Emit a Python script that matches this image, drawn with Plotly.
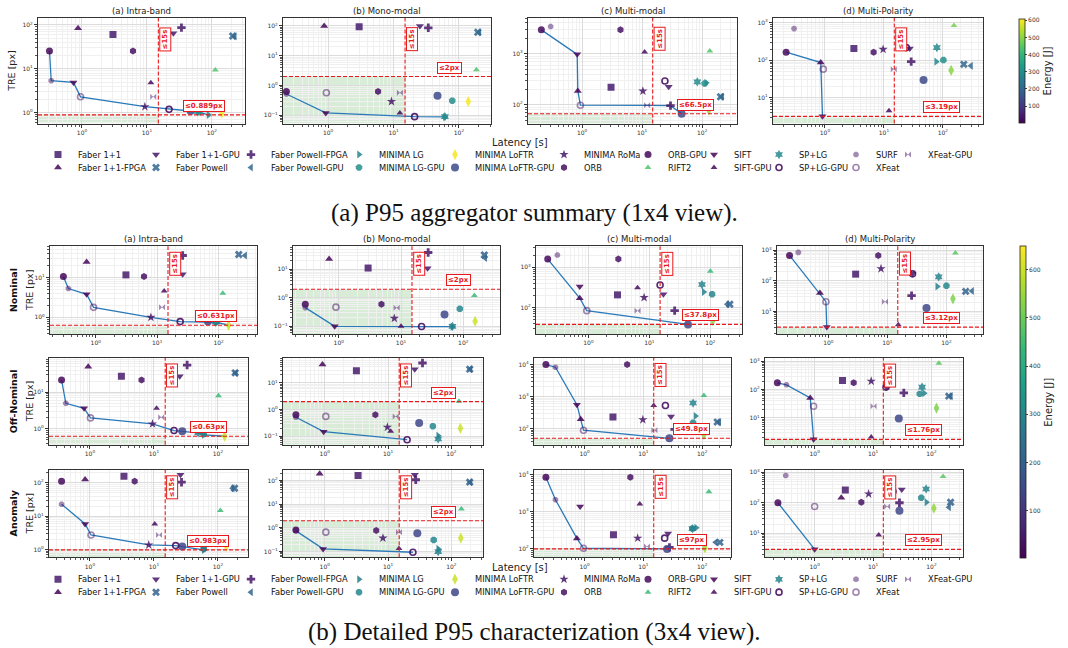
import numpy as np
import plotly.graph_objects as go
from plotly.colors import sample_colorscale

W, H = 1068, 648

METHODS = ["Faber 1+1", "Faber 1+1-FPGA", "Faber 1+1-GPU", "Faber Powell", "Faber Powell-FPGA",
           "Faber Powell-GPU", "MINIMA LG", "MINIMA LG-GPU", "MINIMA LoFTR", "MINIMA LoFTR-GPU",
           "MINIMA RoMa", "ORB", "ORB-GPU", "RIFT2", "SIFT", "SIFT-GPU", "SP+LG", "SP+LG-GPU",
           "SURF", "XFeat", "XFeat-GPU"]

SYMBOL = ["square", "triangle-up", "triangle-down", "x", "cross", "triangle-left", "triangle-right",
          "octagon", "diamond-tall", "circle", "star", "hexagon", "circle", "triangle-up",
          "triangle-down", "triangle-up", "hexagram", "circle-open", "octagon", "circle-open",
          "bowtie"]
SIZE = [7, 7, 7, 7, 7, 7, 7, 7, 8, 8, 7, 7, 7, 6, 7, 6, 7, 6, 6, 6, 6]
ALPHA = [0.85, 0.85, 0.85, 0.85, 0.85, 0.85, 0.85, 0.85, 0.85, 0.85, 0.85, 0.85, 0.85, 0.85,
         0.85, 0.85, 0.85, 0.9, 0.5, 0.5, 0.5]

# ---------------- (a) P95 aggregate, 1x4 ----------------
LAT_A_INTRA = [3.0, 0.87, 25.5, 209, 34, 225, 89, 64, 142, 47, 9.3, 6.1, 0.316, 113, 0.74, 11.5, 60, 21.9, 0.336, 0.95, 12.5]
TRE_A_INTRA = [61, 84, 65, 56, 87, 55, 0.889, 1.02, 0.97, 1.09, 1.37, 25.5, 25.5, 9.4, 4.9, 4.8, 1.06, 1.19, 5.37, 2.3, 2.3]
EN_A_INTRA = [50, 10, 40, 200, 40, 210, 280, 300, 600, 140, 40, 30, 15, 440, 10, 20, 290, 30, 40, 30, 40]

LAT_A_MONO = [2.98, 0.87, 25.3, 194, 34, 205, 61, 79, 139, 47, 9.3, 5.8, 0.23, 185, 0.92, 12.5, 61, 21, 0.23, 0.94, 12.5]
TRE_A_MONO = [95, 100, 100, 62, 87, 62, 0.088, 0.31, 0.29, 0.45, 0.29, 0.63, 0.63, 3.4, 0.12, 0.12, 0.09, 0.09, 0.52, 0.57, 0.57]
EN_A_MONO = [50, 10, 40, 200, 40, 210, 280, 300, 600, 140, 40, 30, 15, 440, 10, 20, 290, 30, 40, 30, 40]

LAT_A_MULTI = [3.04, 0.85, 27.7, 202, 29.7, 215, 117, 110, 129, 45.5, 10.3, 4.36, 0.21, 134, 0.83, 11, 83, 24, 0.30, 0.94, 12.1]
TRE_A_MULTI = [220, 185, 225, 143, 96, 143, 270, 260, 79, 66.5, 185, 2930, 2930, 1130, 970, 1080, 280, 292, 3400, 98, 97.5]
EN_A_MULTI = [50, 10, 40, 200, 40, 210, 280, 300, 520, 140, 40, 30, 15, 440, 10, 20, 290, 30, 40, 30, 40]

LAT_A_POL = [3.1, 0.85, 27.5, 226, 29, 300, 77, 102, 138, 47, 9.7, 6.7, 0.22, 154, 0.91, 12.2, 79, 24, 0.30, 0.94, 14.7]
TRE_A_POL = [205, 87, 208, 78, 92, 71, 92, 102, 54, 30, 196, 165, 165, 850, 3.19, 4.5, 218, 218, 700, 58, 58]
EN_A_POL = [50, 10, 40, 200, 40, 210, 280, 300, 500, 140, 40, 30, 15, 480, 10, 20, 290, 30, 40, 30, 40]

# ---------------- (b) detailed, 3x4 ----------------
LAT_NOM_INTRA = [3.1, 0.71, 26, 213, 26, 270, 94, 90, 145, 67, 7.9, 6.1, 0.297, 117, 0.71, 13, 90, 23.7, 0.358, 0.92, 12]
TRE_NOM_INTRA = [11.7, 24.6, 12.1, 38, 36, 36, 0.74, 0.75, 0.631, 0.78, 1.0, 10.6, 10.6, 4.06, 3.8, 4.6, 0.76, 0.78, 5.3, 1.78, 1.78]
EN_NOM_INTRA = [50, 10, 40, 200, 40, 210, 280, 300, 600, 140, 40, 30, 15, 440, 10, 20, 290, 30, 40, 30, 40]

LAT_NOM_MONO = [2.96, 0.7, 26.7, 218, 27.3, 225, 67, 88, 155, 50, 7.8, 4.85, 0.29, 151, 0.86, 10, 67, 21.4, 0.29, 0.9, 8.5]
TRE_NOM_MONO = [11.1, 23, 11, 32, 39, 25, 0.097, 0.41, 0.15, 0.26, 0.19, 0.59, 0.59, 1.2, 0.1, 0.101, 0.099, 0.098, 0.45, 0.47, 0.45]
EN_NOM_MONO = [50, 10, 40, 200, 40, 210, 280, 300, 600, 140, 40, 30, 15, 440, 10, 20, 290, 30, 40, 30, 40]

LAT_NOM_MULTI = [3.0, 0.72, 17, 209, 26, 190, 78, 107, 110, 43, 8.2, 3.1, 0.215, 100, 0.72, 6.4, 73, 15, 0.31, 0.94, 6.4]
TRE_NOM_MULTI = [205, 170, 213, 120, 83, 120, 243, 213, 47, 37.8, 176, 1590, 1590, 795, 330, 310, 370, 360, 2000, 83, 83]
EN_NOM_MULTI = [50, 10, 40, 200, 40, 210, 280, 300, 540, 140, 40, 30, 15, 440, 10, 20, 290, 30, 40, 30, 40]

LAT_NOM_POL = [2.9, 0.72, 26.7, 212, 25.7, 272, 70, 100, 129, 46, 7.8, 7.0, 0.22, 142, 0.94, 15.3, 74, 26.7, 0.31, 0.91, 9.1]
TRE_NOM_POL = [166, 40, 170, 45.6, 33, 47, 66, 69, 26, 13, 250, 675, 675, 810, 3.12, 3.7, 135, 170, 850, 21, 21]
EN_NOM_POL = [50, 10, 40, 200, 40, 210, 280, 300, 520, 140, 40, 30, 15, 480, 10, 20, 290, 30, 40, 30, 40]

LAT_OFF_INTRA = [3.1, 0.94, 25.3, 186, 33, 190, 60, 60, 127, 27.7, 9.5, 6.4, 0.36, 102, 0.81, 11, 49, 20.6, 0.42, 1.02, 13]
TRE_OFF_INTRA = [27.4, 50, 27.4, 34, 55.6, 33, 0.69, 0.72, 0.63, 0.86, 1.37, 21.7, 21.7, 8.1, 3.66, 3.66, 0.78, 0.9, 5.0, 2.0, 2.08]
EN_OFF_INTRA = [50, 10, 40, 200, 40, 210, 280, 300, 600, 140, 40, 30, 15, 440, 10, 20, 290, 30, 40, 30, 40]

LAT_OFF_MONO = [3.16, 0.92, 26.4, 195, 35, 200, 62, 51, 139, 31, 9.76, 6.3, 0.35, 132, 0.96, 11, 62, 20, 0.35, 1.04, 13.2]
TRE_OFF_MONO = [29, 49, 33, 33, 56, 33, 0.106, 0.24, 0.2, 0.32, 0.22, 0.65, 0.65, 2.05, 0.15, 0.155, 0.08, 0.075, 0.52, 0.56, 0.56]
EN_OFF_MONO = [50, 10, 40, 200, 40, 210, 280, 300, 600, 140, 40, 30, 15, 440, 10, 20, 290, 30, 40, 30, 40]

LAT_OFF_MULTI = [3.04, 0.86, 29.5, 180, 34, 195, 77, 70, 107, 27.7, 9.8, 5.3, 0.22, 107, 0.74, 15, 70, 23.7, 0.32, 0.96, 15.4]
TRE_OFF_MULTI = [230, 195, 240, 160, 95, 160, 247, 154, 65, 49.8, 190, 10000, 10000, 1090, 560, 530, 630, 530, 8300, 89, 89]
EN_OFF_MULTI = [50, 10, 40, 200, 40, 210, 280, 300, 540, 140, 40, 30, 15, 440, 10, 20, 290, 30, 40, 30, 40]

LAT_OFF_POL = [3.0, 0.84, 17, 198, 33.6, 215, 75, 63, 122, 27.6, 9.3, 4.66, 0.23, 134, 0.96, 9.3, 69, 16.7, 0.33, 0.96, 10.2]
TRE_OFF_POL = [210, 51, 125, 59, 77, 59, 75, 71, 22.4, 9.5, 199, 174, 174, 850, 1.76, 2.15, 123, 123, 148, 26, 26]
EN_OFF_POL = [50, 10, 40, 200, 40, 210, 280, 300, 520, 140, 40, 30, 15, 480, 10, 20, 290, 30, 40, 30, 40]

LAT_ANO_INTRA = [3.4, 0.84, 26, 182, 27, 170, 60, 60, 135, 27.7, 8.3, 5.0, 0.36, 109, 0.84, 10.3, 60, 21.9, 0.36, 1.04, 12]
TRE_ANO_INTRA = [158, 126, 174, 69, 105, 69, 0.983, 1.05, 1.26, 1.23, 1.38, 112, 112, 14.8, 5.9, 5.9, 1.1, 1.32, 23, 2.75, 2.75]
EN_ANO_INTRA = [50, 10, 40, 200, 40, 210, 280, 300, 640, 140, 40, 30, 15, 440, 10, 20, 290, 30, 40, 30, 40]

LAT_ANO_MONO = [3.36, 0.83, 26.4, 195, 27.4, 200, 62, 52.6, 141, 29, 8.3, 6.5, 0.35, 144, 0.94, 14.9, 62, 24.7, 0.35, 1.04, 14.9]
TRE_ANO_MONO = [162, 190, 174, 85, 107, 85, 0.13, 0.31, 0.37, 0.6, 0.37, 0.77, 0.82, 6.3, 0.13, 0.135, 0.1, 0.094, 0.75, 0.66, 0.66]
EN_ANO_MONO = [50, 10, 40, 200, 40, 210, 280, 300, 600, 140, 40, 30, 15, 440, 10, 20, 290, 30, 40, 30, 40]

LAT_ANO_MULTI = [3.1, 0.74, 26.3, 200, 27.8, 170, 79, 68, 111, 25.3, 8.0, 6.0, 0.22, 130, 0.84, 8.7, 68, 23, 0.32, 0.96, 11.5]
TRE_ANO_MULTI = [235, 187, 255, 146, 107, 146, 364, 345, 104, 97, 190, 8500, 8500, 3460, 1380, 1600, 345, 190, 2100, 101, 112]
EN_ANO_MULTI = [50, 10, 40, 200, 40, 210, 280, 300, 560, 140, 40, 30, 15, 440, 10, 20, 290, 30, 40, 30, 40]

LAT_ANO_POL = [3.35, 2.86, 31, 213, 28.3, 200, 82, 67, 110, 28.3, 8.4, 6.3, 0.235, 158, 1.0, 12.5, 81, 22, 0.32, 1.0, 17.4]
TRE_ANO_POL = [263, 145, 270, 104, 100, 71, 104, 145, 66, 55, 195, 104, 100, 730, 2.95, 8.8, 283, 235, 780, 75, 75]
EN_ANO_POL = [50, 10, 40, 200, 40, 210, 280, 300, 540, 140, 40, 30, 15, 480, 10, 20, 290, 30, 40, 30, 40]

TITLES = ["(a) Intra-band", "(b) Mono-modal", "(c) Multi-modal", "(d) Multi-Polarity"]
ROW_NAMES = ["Nominal", "Off-Nominal", "Anomaly"]
LAT_LIMIT = 15
ENERGY_RANGE = {"a": (2, 608), "b": (2, 648)}

# panel geometry in pixels: x0, x1, y_top, y_bottom ; log10 axis ranges
PANELS = [
    # section a
    dict(sec="a", box=(38, 245, 16, 122), xr=(-0.677, 2.51), yr=(-0.25, 2.16), thr=0.889, lab="≤0.889px",
         data=(LAT_A_INTRA, TRE_A_INTRA, EN_A_INTRA), title=TITLES[0], row=None),
    dict(sec="a", box=(283, 491, 16, 122), xr=(-0.69, 2.49), yr=(-1.28, 2.27), thr=2, lab="≤2px",
         data=(LAT_A_MONO, TRE_A_MONO, EN_A_MONO), title=TITLES[1], row=None),
    dict(sec="a", box=(528, 737, 16, 122), xr=(-0.9, 2.58), yr=(1.63, 3.7), thr=66.5, lab="≤66.5px",
         data=(LAT_A_MULTI, TRE_A_MULTI, EN_A_MULTI), title=TITLES[2], row=None),
    dict(sec="a", box=(773, 983, 16, 122), xr=(-0.88, 2.68), yr=(0.31, 3.13), thr=3.19, lab="≤3.19px",
         data=(LAT_A_POL, TRE_A_POL, EN_A_POL), title=TITLES[3], row=None),
    # section b, row 1
    dict(sec="b", box=(50, 257, 245, 333), xr=(-0.745, 2.625), yr=(-0.42, 1.79), thr=0.631, lab="≤0.631px",
         data=(LAT_NOM_INTRA, TRE_NOM_INTRA, EN_NOM_INTRA), title=TITLES[0], row=0),
    dict(sec="b", box=(293, 500, 245, 333), xr=(-0.735, 2.59), yr=(-1.27, 1.81), thr=2, lab="≤2px",
         data=(LAT_NOM_MONO, TRE_NOM_MONO, EN_NOM_MONO), title=TITLES[1], row=None),
    dict(sec="b", box=(536, 742, 245, 333), xr=(-0.86, 2.52), yr=(1.34, 3.52), thr=37.8, lab="≤37.8px",
         data=(LAT_NOM_MULTI, TRE_NOM_MULTI, EN_NOM_MULTI), title=TITLES[2], row=None),
    dict(sec="b", box=(777, 983, 245, 333), xr=(-0.87, 2.62), yr=(0.27, 3.13), thr=3.12, lab="≤3.12px",
         data=(LAT_NOM_POL, TRE_NOM_POL, EN_NOM_POL), title=TITLES[3], row=None),
    # row 2
    dict(sec="b", box=(49, 248, 357, 444), xr=(-0.64, 2.47), yr=(-0.43, 1.94), thr=0.63, lab="≤0.63px",
         data=(LAT_OFF_INTRA, TRE_OFF_INTRA, EN_OFF_INTRA), title=None, row=1),
    dict(sec="b", box=(283, 483, 357, 444), xr=(-0.66, 2.5), yr=(-1.31, 1.94), thr=2, lab="≤2px",
         data=(LAT_OFF_MONO, TRE_OFF_MONO, EN_OFF_MONO), title=None, row=None),
    dict(sec="b", box=(534, 731, 357, 444), xr=(-0.86, 2.49), yr=(1.5, 4.21), thr=49.8, lab="≤49.8px",
         data=(LAT_OFF_MULTI, TRE_OFF_MULTI, EN_OFF_MULTI), title=None, row=None),
    dict(sec="b", box=(765, 963, 357, 444), xr=(-0.85, 2.54), yr=(0.06, 3.12), thr=1.76, lab="≤1.76px",
         data=(LAT_OFF_POL, TRE_OFF_POL, EN_OFF_POL), title=None, row=None),
    # row 3
    dict(sec="b", box=(49, 248, 469, 557), xr=(-0.64, 2.47), yr=(-0.23, 2.4), thr=0.983, lab="≤0.983px",
         data=(LAT_ANO_INTRA, TRE_ANO_INTRA, EN_ANO_INTRA), title=None, row=2),
    dict(sec="b", box=(283, 483, 469, 557), xr=(-0.66, 2.5), yr=(-1.24, 2.46), thr=2, lab="≤2px",
         data=(LAT_ANO_MONO, TRE_ANO_MONO, EN_ANO_MONO), title=None, row=None),
    dict(sec="b", box=(534, 731, 469, 557), xr=(-0.86, 2.49), yr=(1.76, 4.14), thr=97, lab="≤97px",
         data=(LAT_ANO_MULTI, TRE_ANO_MULTI, EN_ANO_MULTI), title=None, row=None),
    dict(sec="b", box=(765, 963, 469, 557), xr=(-0.85, 2.54), yr=(0.21, 3.09), thr=2.95, lab="≤2.95px",
         data=(LAT_ANO_POL, TRE_ANO_POL, EN_ANO_POL), title=None, row=None),
]

# legend columns (text left edge in px) and row centres per section
LEG_COLS = [77, 175, 270, 378, 474, 583, 667, 733, 798, 875, 927]
LEG_ROWS = {"a": (153, 166), "b": (579, 592)}

FONT = "DejaVu Sans"
RED = "#e8191c"
DASH = "4px,2px"


def fx(px):
    return px / W


def fy(py):
    return 1 - py / H


def pow_label(e):
    return "10<sup>%s%d</sup>" % ("\u2212" if e < 0 else "", abs(e))


def energy_color(e, sec):
    lo, hi = ENERGY_RANGE[sec]
    t = min(max((e - lo) / (hi - lo), 0.0), 1.0)
    return sample_colorscale("Viridis", [t])[0]


def pareto(lat, tre):
    pts = sorted(zip(lat, tre))
    front, best = [], np.inf
    for L, T in pts:
        if T < best:
            front.append((L, T))
            best = T
    return [p[0] for p in front], [p[1] for p in front]


def note(text, x, y, size, color="#222", angle=0, family=FONT, **kw):
    return dict(text=text, x=x, y=y, xref="paper", yref="paper", showarrow=False, textangle=angle,
                xanchor="center", yanchor="middle", font=dict(family=family, size=size, color=color), **kw)


fig = go.Figure()
layout = {}
annotations = []
shapes = []
legend_ids = {"a": {}, "b": {}}
leg_counter = [0]


def new_legend(sec, mi):
    leg_counter[0] += 1
    k = leg_counter[0]
    name = "legend" if k == 1 else "legend%d" % k
    col, r = divmod(mi, 2)
    layout[name] = dict(x=fx(LEG_COLS[col] - 39), xanchor="left", y=fy(LEG_ROWS[sec][r]), yanchor="middle",
                        bgcolor="rgba(0,0,0,0)", borderwidth=0, font=dict(family=FONT, size=8.3, color="#111"),
                        itemwidth=30, tracegroupgap=0)
    return name


for n, p in enumerate(PANELS, start=1):
    sfx = "" if n == 1 else str(n)
    xa, ya = "x" + sfx, "y" + sfx
    x0, x1, yt, yb = p["box"]
    lat, tre, en = p["data"]

    ylo = int(np.ceil(p["yr"][0] - 1e-9))
    yhi = int(np.floor(p["yr"][1] + 1e-9))
    yt_vals = [10.0 ** e for e in range(ylo, yhi + 1)]
    common = dict(type="log", showline=True, linecolor="#333", linewidth=1.2, mirror=True,
                  ticks="outside", ticklen=3, tickwidth=0.8, tickcolor="#333",
                  showgrid=True, gridcolor="#dcdcdc", gridwidth=0.6, zeroline=False,
                  tickfont=dict(family=FONT, size=6, color="#333"),
                  minor=dict(ticks="outside", ticklen=1.8, tickwidth=0.5, tickcolor="#555",
                             showgrid=True, gridcolor="#f0f0f0", gridwidth=0.5, dtick="D1"))
    layout["xaxis" + sfx] = dict(common, domain=[fx(x0), fx(x1)], range=list(p["xr"]), anchor=ya,
                                 tickmode="array", tickvals=[1, 10, 100],
                                 ticktext=[pow_label(0), pow_label(1), pow_label(2)])
    layout["yaxis" + sfx] = dict(common, domain=[fy(yb), fy(yt)], range=list(p["yr"]), anchor=xa,
                                 tickmode="array", tickvals=yt_vals,
                                 ticktext=[pow_label(e) for e in range(ylo, yhi + 1)])

    # feasible region and thresholds
    shapes.append(dict(type="rect", xref=xa, yref=ya, x0=10 ** p["xr"][0], x1=LAT_LIMIT,
                       y0=10 ** p["yr"][0], y1=p["thr"], fillcolor="rgba(60,160,60,0.2)",
                       line=dict(width=0), layer="below"))
    shapes.append(dict(type="line", xref=xa, yref="paper", x0=LAT_LIMIT, x1=LAT_LIMIT, y0=fy(yb), y1=fy(yt),
                       line=dict(color=RED, width=1.1, dash=DASH), layer="above"))
    shapes.append(dict(type="line", xref="paper", yref=ya, x0=fx(x0), x1=fx(x1), y0=p["thr"], y1=p["thr"],
                       line=dict(color=RED, width=1.1, dash=DASH), layer="above"))

    # Pareto front
    fl, ft = pareto(lat, tre)
    fig.add_trace(go.Scatter(x=fl, y=ft, mode="lines", line=dict(color="#2a7ab9", width=1.3),
                             xaxis=xa, yaxis=ya, showlegend=False, hoverinfo="skip"))

    for mi, m in enumerate(METHODS):
        if lat[mi] is None:
            continue
        show = m not in legend_ids[p["sec"]]
        kw = {}
        if show:
            legend_ids[p["sec"]][m] = new_legend(p["sec"], mi)
            kw["legend"] = legend_ids[p["sec"]][m]
        sym = SYMBOL[mi]
        is_open = sym.endswith("-open")
        col = energy_color(en[mi], p["sec"])
        fig.add_trace(go.Scatter(
            x=[lat[mi]], y=[tre[mi]], mode="markers", name=m, showlegend=show, legendgroup=p["sec"] + m,
            xaxis=xa, yaxis=ya,
            marker=dict(symbol=sym, size=SIZE[mi], color=col, opacity=ALPHA[mi],
                        line=dict(width=1.6 if is_open else 0, color=col)),
            **kw))

    # labels
    xc = (x0 + x1) / 2
    if p["title"]:
        annotations.append(note(p["title"], fx(xc), fy(yt - 7), 8.5))
    box = dict(showarrow=False, font=dict(family=FONT, size=7, color=RED), bgcolor="white",
               bordercolor=RED, borderwidth=1, borderpad=1, xanchor="center", yanchor="middle")
    annotations.append(dict(box, text="<b>≤15s</b>", xref=xa, x=np.log10(LAT_LIMIT), xshift=7,
                            yref="paper", y=fy(yt + 0.2 * (yb - yt)), textangle=-90))
    annotations.append(dict(box, text="<b>%s</b>" % p["lab"], xref="paper", x=fx(x0 + 0.8 * (x1 - x0)),
                            yref=ya, y=np.log10(p["thr"]), yshift=9))
    if p["sec"] == "a" and n == 1:
        annotations.append(note("TRE [px]", fx(12), fy((yt + yb) / 2), 9.5, angle=-90))
    if p["row"] is not None:
        annotations.append(note("<b>%s</b>" % ROW_NAMES[p["row"]], fx(13), fy((yt + yb) / 2), 9.5,
                                color="#111", angle=-90))
        annotations.append(note("TRE [px]", fx(29), fy((yt + yb) / 2), 9.5, angle=-90))

# colour bars driven by the same energy scale
for sec, cax in (("a", "coloraxis"), ("b", "coloraxis2")):
    fig.add_trace(go.Scatter(x=[None, None], y=[None, None], mode="markers", showlegend=False,
                             hoverinfo="skip", xaxis="x", yaxis="y",
                             marker=dict(color=list(ENERGY_RANGE[sec]), coloraxis=cax)))

# shared axis labels and captions
for ypx in (141, 567):
    annotations.append(note("Latency [s]", fx(520), fy(ypx), 10))
annotations.append(note("(a) P95 aggregator summary (1x4 view).", fx(534), fy(212), 25,
                        color="#111", family="Liberation Serif"))
annotations.append(note("(b) Detailed P95 characterization (3x4 view).", fx(534), fy(632), 25,
                        color="#111", family="Liberation Serif"))

cbar_common = dict(thickness=6, thicknessmode="pixels", lenmode="pixels", xanchor="left", yanchor="top",
                   outlinecolor="#222", outlinewidth=0.8, ticks="outside", ticklen=2, tickwidth=0.6,
                   tickvals=[100, 200, 300, 400, 500, 600], tickfont=dict(family=FONT, size=6, color="#333"),
                   title=dict(text="Energy [J]", side="right", font=dict(family=FONT, size=10, color="#222")),
                   xpad=0, ypad=0)
layout["coloraxis"] = dict(colorscale="Viridis", cmin=ENERGY_RANGE["a"][0], cmax=ENERGY_RANGE["a"][1],
                           colorbar=dict(cbar_common, x=fx(1019), y=fy(17), len=104))
layout["coloraxis2"] = dict(colorscale="Viridis", cmin=ENERGY_RANGE["b"][0], cmax=ENERGY_RANGE["b"][1],
                            colorbar=dict(cbar_common, x=fx(1020), y=fy(245), len=312))

fig.update_layout(width=W, height=H, margin=dict(l=0, r=0, t=0, b=0), paper_bgcolor="white",
                  plot_bgcolor="white", annotations=annotations, shapes=shapes,
                  font=dict(family=FONT), **layout)

fig.write_html("out.html")
